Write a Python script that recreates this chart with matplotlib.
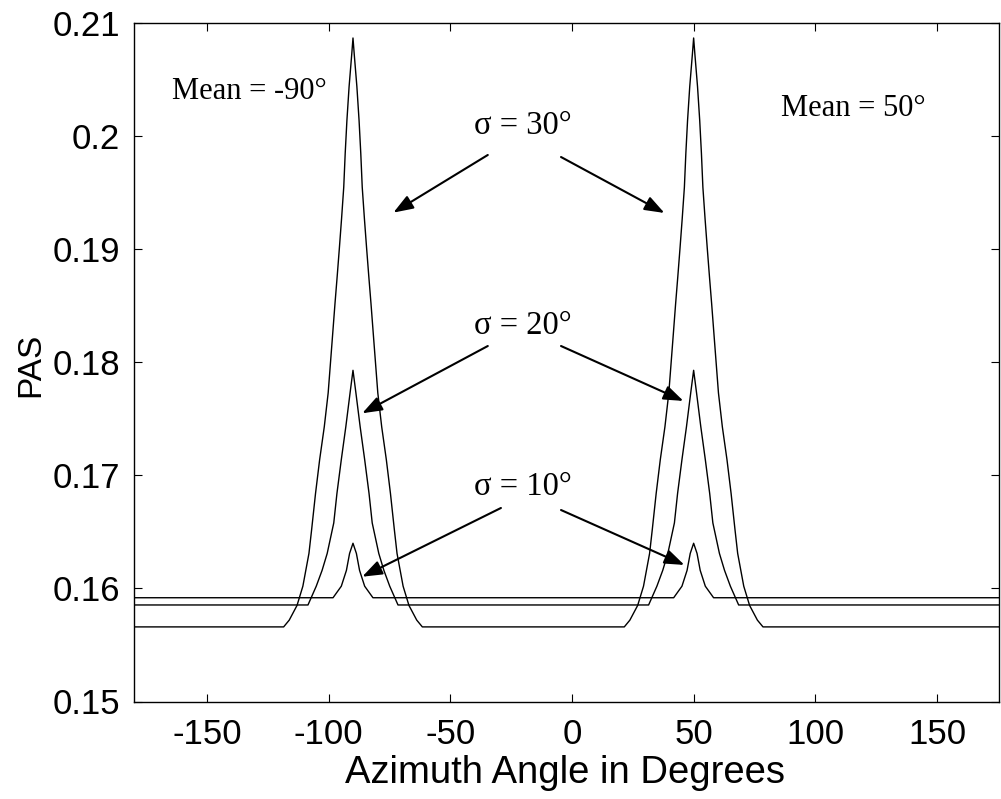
import matplotlib
matplotlib.use("Agg")
import matplotlib.pyplot as plt
import numpy as np

# ---------------- data ----------------
means = [-90, 50]                      # cluster mean azimuths (deg)
sigma_labels = ["σ = 30°", "σ = 20°", "σ = 10°"]

# half-profiles: offset from the mean (deg) and PAS value
off_s30 = [0, 0.5, 1.6, 2.5, 3.2, 3.8, 4.7, 5.6, 6.5, 7.4, 8.6, 10.2, 11.8,
           13.7, 15.4, 17.0, 18.1, 20.6, 23.0, 26.2, 28.5]
pas_s30 = [0.2087, 0.2073, 0.2044, 0.2014, 0.1985, 0.1955, 0.1927, 0.1901,
           0.1876, 0.1852, 0.1818, 0.1773, 0.1743, 0.1714, 0.1684, 0.1652,
           0.1631, 0.1602, 0.1585, 0.1572, 0.1566]

off_s20 = [0, 1.2, 2.95, 4.8, 6.6, 7.9, 10.6, 12.7, 15.1, 18.5]
pas_s20 = [0.1793, 0.1773, 0.1743, 0.1714, 0.1684, 0.1658, 0.1631, 0.1616,
           0.1602, 0.15854]

off_s10 = [0, 1.4, 2.7, 4.8, 8.2]
pas_s10 = [0.1640, 0.1631, 0.1616, 0.1602, 0.15918]

x_ticks = [-150, -100, -50, 0, 50, 100, 150]
y_ticks = [0.15, 0.16, 0.17, 0.18, 0.19, 0.20, 0.21]
y_ticklabels = ["0.15", "0.16", "0.17", "0.18", "0.19", "0.2", "0.21"]

# annotation anchors (data units)
mean_texts = [("Mean = -90°", -164.3, 0.2040), ("Mean = 50°", 85.8, 0.20242)]
sigma_text_pos = [(-40.3, 0.20092), (-40.3, 0.18322), (-40.3, 0.16898)]
arrow_tails = [[(-34.6, 0.19835), (-4.5, 0.19817)],
               [(-34.6, 0.18145), (-4.5, 0.18145)],
               [(-29.2, 0.16712), (-4.5, 0.16694)]]
arrow_heads = [[(-73.4, 0.19325), (38.0, 0.19322)],
               [(-86.2, 0.1755), (45.8, 0.17659)],
               [(-86.2, 0.16104), (46.2, 0.16208)]]

# ---------------- figure ----------------
plt.rcParams['axes.unicode_minus'] = False
plt.rcParams['font.family'] = ['Liberation Sans', 'DejaVu Sans']

W, H = 1001, 799
fig = plt.figure(figsize=(W / 100, H / 100), dpi=100)
L, R, T, B = 134, 999, 23.3, 701.5
ax = fig.add_axes([L / W, 1 - B / H, (R - L) / W, (B - T) / H])


def build_curve(offs, vals):
    xs, ys = [-180.0], [vals[-1]]
    offs = np.asarray(offs, float)
    vals = np.asarray(vals, float)
    for m in means:
        xs += list(m - offs[::-1]) + list(m + offs[1:])
        ys += list(vals[::-1]) + list(vals[1:])
    xs.append(180.0)
    ys.append(vals[-1])
    return xs, ys


for offs, vals in [(off_s30, pas_s30), (off_s20, pas_s20), (off_s10, pas_s10)]:
    xs, ys = build_curve(offs, vals)
    ax.plot(xs, ys, color='black', lw=1.0)

ax.set_xlim(-180, 175.5)
ax.set_ylim(0.15, 0.21)
ax.set_xticks(x_ticks)
ax.set_xticklabels([str(t) for t in x_ticks])
ax.set_yticks(y_ticks)
ax.set_yticklabels(y_ticklabels)

ax.tick_params(direction='in', length=6, width=0.8, top=True, right=True,
               labelsize=25, colors='black')
ax.tick_params(axis='x', pad=12)
ax.tick_params(axis='y', pad=10)
for s in ax.spines.values():
    s.set_linewidth(1.0)

ax.set_xlabel("Azimuth Angle in Degrees", fontsize=27.5)
ax.xaxis.set_label_coords((565 - L) / (R - L), (B - 755) / (B - T))
ax.set_ylabel("PAS", fontsize=24)
ax.yaxis.set_label_coords((46 - L) / (R - L), (B - 365) / (B - T))

serif = ['Liberation Serif', 'DejaVu Serif']
for txt, x, y in mean_texts:
    ax.text(x, y, txt, fontsize=22, family=serif, ha='left', va='center')

for lab, (tx, ty), tails, heads in zip(sigma_labels, sigma_text_pos,
                                       arrow_tails, arrow_heads):
    ax.text(tx, ty, lab, fontsize=23.5, family=serif, ha='left', va='center')
    for (x0, y0), (x1, y1) in zip(tails, heads):
        ax.annotate("", xy=(x1, y1), xytext=(x0, y0),
                    arrowprops=dict(arrowstyle='-|>,head_length=0.6,head_width=0.22',
                                    mutation_scale=20, lw=1.5, color='black',
                                    shrinkA=0, shrinkB=0))

fig.savefig("out.png", dpi=100)
